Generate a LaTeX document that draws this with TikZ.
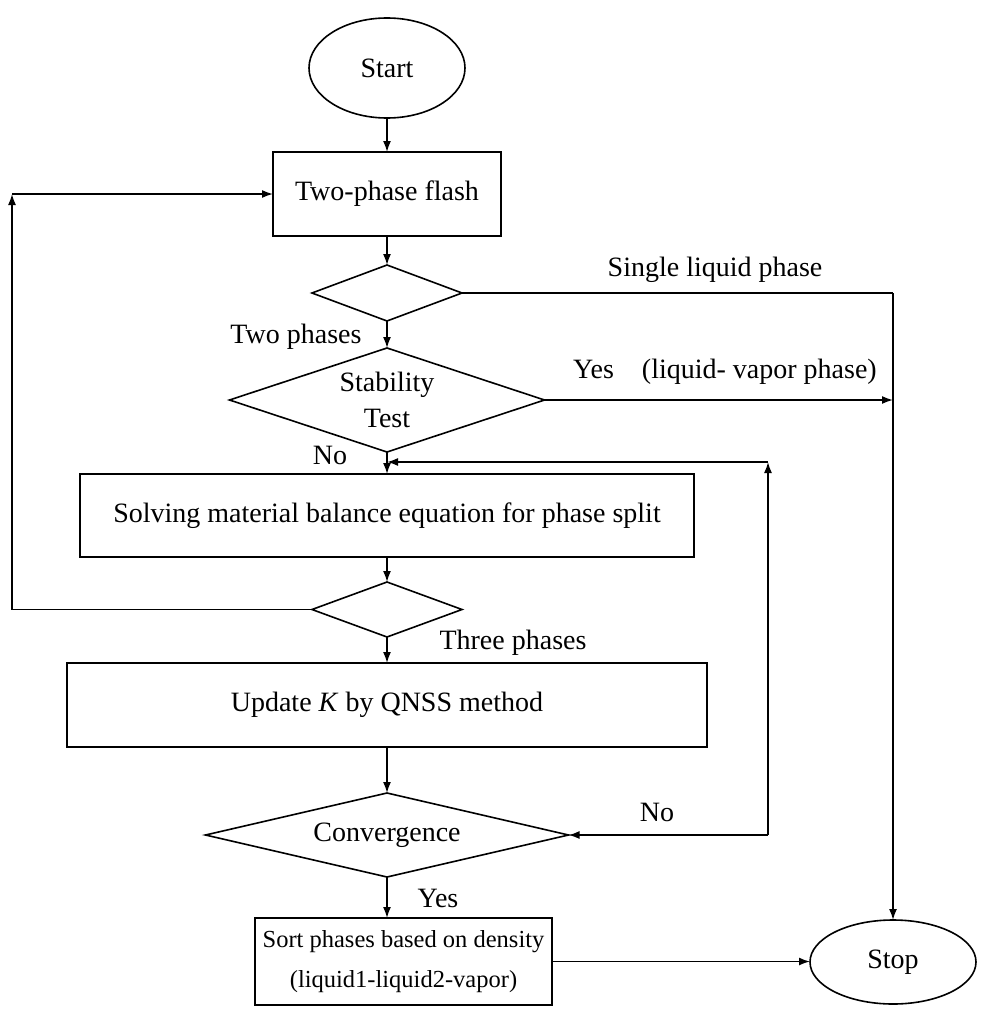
\documentclass[tikz,border=0pt]{standalone}
\usepackage{fontspec}
\setmainfont{Liberation Serif}
\usetikzlibrary{positioning,shapes.geometric,arrows.meta}
\begin{document}
\begin{tikzpicture}[x=1pt,y=-1pt,line width=1.6pt,>={Latex[length=11pt,width=8pt]},
    font=\fontsize{28}{36}\selectfont,
    term/.style={draw,ellipse,inner sep=0pt,outer sep=0pt},
    box/.style={draw,inner sep=0pt,outer sep=0pt,align=center},
    decision/.style={draw,diamond,inner sep=0pt,outer sep=0pt,align=center}]
    \useasboundingbox (0,0) rectangle (981,1025);
    \node (start) [term, minimum width=156pt, minimum height=100pt] at (387,68) {Start};
    \node (flash) [box, minimum width=228pt, minimum height=84pt, below=34pt of start] {Two-phase flash};
    \node (d1) [decision, minimum width=150pt, minimum height=56pt, below=29pt of flash] {};
    \node (stab) [decision, aspect=3, minimum width=315pt, minimum height=104pt, below=27pt of d1] {Stability\\Test};
    \node (split) [box, minimum width=614pt, minimum height=83pt, below=22pt of stab] {Solving material balance equation for phase split};
    \node (d3) [decision, minimum width=150pt, minimum height=55pt, below=25pt of split] {};
    \node (upd) [box, minimum width=640pt, minimum height=84pt, below=26pt of d3] {Update \textit{K} by QNSS method};
    \node (conv) [decision, aspect=4.3, minimum width=363pt, minimum height=84pt, below=46pt of upd] {Convergence};
    \node (sort) [box, font=\fontsize{24.5}{40}\selectfont, minimum width=297pt, minimum height=87pt, below=41pt of conv, xshift=16.5pt] {Sort phases based on density\\(liquid1-liquid2-vapor)};
    \node (stop) [term, minimum width=166pt, minimum height=84pt] at (893,962) {Stop};
    % labels
    \node (lsingle) at (715,270) {Single liquid phase};
    \node (ltwo) at (296,337) {Two phases};
    \node (lyes1) at (725,372) {Yes\quad(liquid- vapor phase)};
    \node (lno1) at (330,455) {No};
    \node (lthree) at (513,643) {Three phases};
    \node (lno2) at (657,812) {No};
    \node (lyes2) at (438,898) {Yes};
    % corners
    \coordinate (c1) at (d1.east -| stop.north);
    \coordinate (c2) at (12,0 |- d3.west);
    \coordinate (c3) at (c2 |- flash.west);
    \coordinate (c5) at (768,462);
    \coordinate (c4) at (c5 |- conv.east);
    \coordinate (c6) at (split.north |- c5);
    % main column
    \draw[->] (start) -- (flash);
    \draw[->] (flash) -- (d1);
    \draw[->] (d1) -- (stab);
    \draw[->] (stab) -- (split);
    \draw[->] (split) -- (d3);
    \draw[->] (d3) -- (upd);
    \draw[->] (upd) -- (conv);
    \draw[->] (conv) -- (conv.south |- sort.north);
    \draw[->] (sort.east) -- (sort.east -| stop.west);
    % branches
    \draw (d1.east) -- (c1);
    \draw[->] (c1) -- (stop);
    \draw[->] (stab.east) -- (stab.east -| stop.north);
    \draw (d3.west) -- (c2);
    \draw[->] (c2) -- (c3);
    \draw[->] (c3) -- (flash.west);
    \draw[->] (c4) -- (conv.east);
    \draw[->] (c4) -- (c5);
    \draw[->] (c5) -- (c6);
\end{tikzpicture}
\end{document}
